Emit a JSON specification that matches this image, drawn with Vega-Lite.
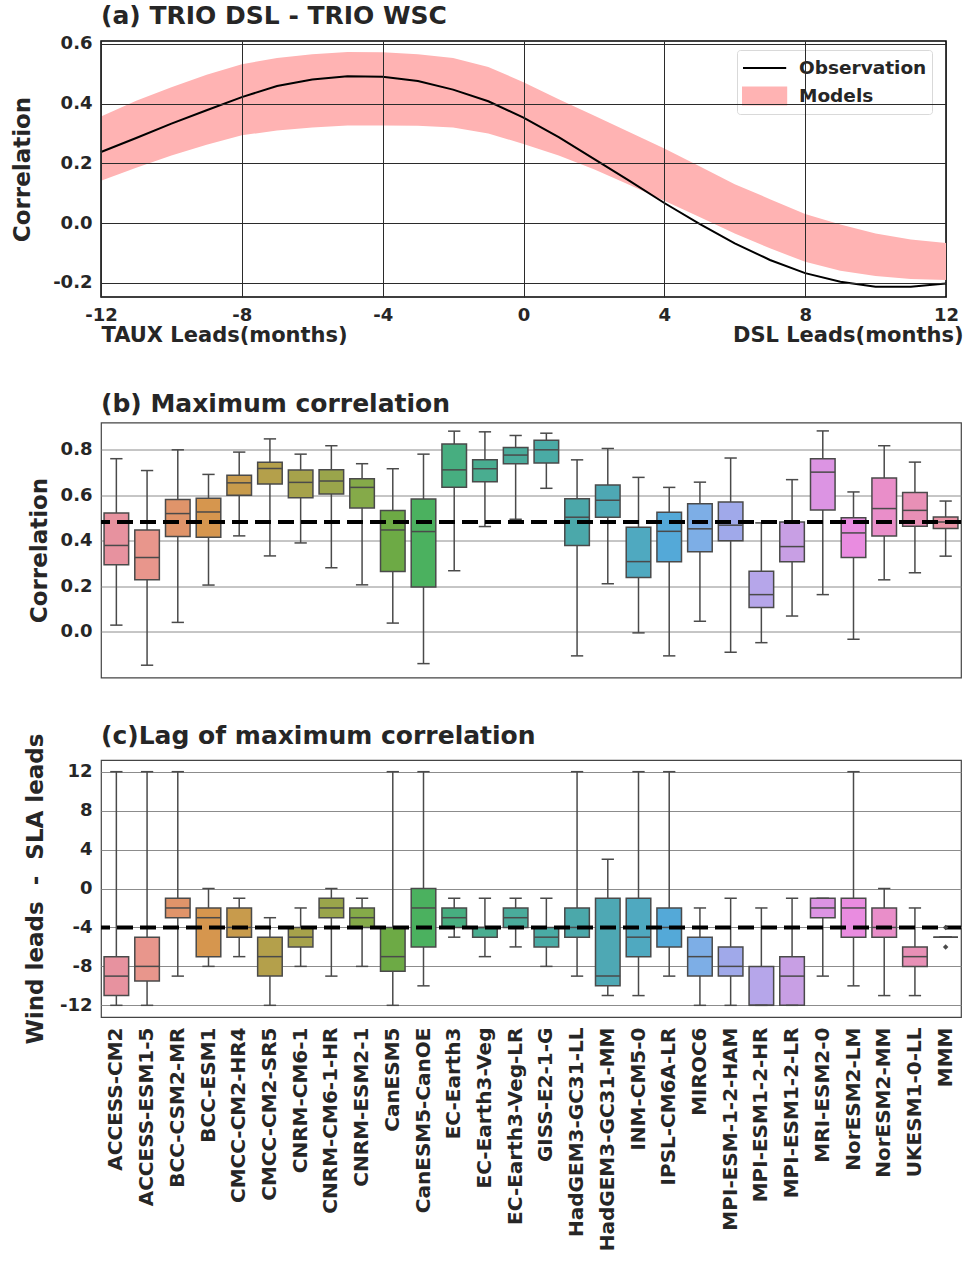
{
  "$schema": "https://vega.github.io/schema/vega-lite/v6.json",
  "padding": {"left": 10, "top": 3, "right": 0, "bottom": 0},
  "background": "white",
  "spacing": 44.5,
  "resolve": {"scale": {"color": "independent"}, "legend": {"color": "independent"}},
  "config": {
    "font": "DejaVu Sans",
    "axis": {"labelFont": "DejaVu Sans", "titleFont": "DejaVu Sans", "labelFontWeight": "bold", "titleFontWeight": "bold", "labelColor": "#262626", "titleColor": "#262626", "ticks": false, "domain": false, "labelFontSize": 18, "titleFontSize": 23},
    "title": {"font": "DejaVu Sans", "fontWeight": "bold", "fontSize": 25, "color": "#262626", "anchor": "start", "offset": 6, "frame": "group"},
    "legend": {"labelFont": "DejaVu Sans"}
  },
  "datasets": {
    "lead": [
      {"month": -12, "obs": 0.238, "lo": 0.142, "hi": 0.357},
      {"month": -11, "obs": 0.285, "lo": 0.185, "hi": 0.41},
      {"month": -10, "obs": 0.333, "lo": 0.226, "hi": 0.455},
      {"month": -9, "obs": 0.378, "lo": 0.262, "hi": 0.497},
      {"month": -8, "obs": 0.422, "lo": 0.294, "hi": 0.532},
      {"month": -7, "obs": 0.459, "lo": 0.31, "hi": 0.553},
      {"month": -6, "obs": 0.481, "lo": 0.32, "hi": 0.566},
      {"month": -5, "obs": 0.492, "lo": 0.327, "hi": 0.573},
      {"month": -4, "obs": 0.49, "lo": 0.327, "hi": 0.572},
      {"month": -3, "obs": 0.476, "lo": 0.326, "hi": 0.566},
      {"month": -2, "obs": 0.447, "lo": 0.32, "hi": 0.553},
      {"month": -1, "obs": 0.408, "lo": 0.3, "hi": 0.523},
      {"month": 0, "obs": 0.353, "lo": 0.265, "hi": 0.472},
      {"month": 1, "obs": 0.288, "lo": 0.226, "hi": 0.415},
      {"month": 2, "obs": 0.215, "lo": 0.18, "hi": 0.36},
      {"month": 3, "obs": 0.142, "lo": 0.128, "hi": 0.305},
      {"month": 4, "obs": 0.067, "lo": 0.075, "hi": 0.25},
      {"month": 5, "obs": -0.003, "lo": 0.02, "hi": 0.19},
      {"month": 6, "obs": -0.068, "lo": -0.035, "hi": 0.13},
      {"month": 7, "obs": -0.124, "lo": -0.085, "hi": 0.08},
      {"month": 8, "obs": -0.168, "lo": -0.13, "hi": 0.03},
      {"month": 9, "obs": -0.197, "lo": -0.16, "hi": -0.005},
      {"month": 10, "obs": -0.214, "lo": -0.178, "hi": -0.035},
      {"month": 11, "obs": -0.214, "lo": -0.188, "hi": -0.055},
      {"month": 12, "obs": -0.203, "lo": -0.191, "hi": -0.067}
    ],
    "maxcorr": [
      {"model": "ACCESS-CM2", "lo": 0.03, "q1": 0.295, "med": 0.38, "q3": 0.523, "hi": 0.761},
      {"model": "ACCESS-ESM1-5", "lo": -0.146, "q1": 0.229, "med": 0.327, "q3": 0.448, "hi": 0.709},
      {"model": "BCC-CSM2-MR", "lo": 0.042, "q1": 0.419, "med": 0.52, "q3": 0.582, "hi": 0.8},
      {"model": "BCC-ESM1", "lo": 0.206, "q1": 0.416, "med": 0.527, "q3": 0.587, "hi": 0.692},
      {"model": "CMCC-CM2-HR4", "lo": 0.422, "q1": 0.601, "med": 0.655, "q3": 0.688, "hi": 0.79},
      {"model": "CMCC-CM2-SR5", "lo": 0.334, "q1": 0.65, "med": 0.718, "q3": 0.745, "hi": 0.848},
      {"model": "CNRM-CM6-1", "lo": 0.391, "q1": 0.59, "med": 0.657, "q3": 0.711, "hi": 0.781},
      {"model": "CNRM-CM6-1-HR", "lo": 0.282, "q1": 0.606, "med": 0.663, "q3": 0.712, "hi": 0.818},
      {"model": "CNRM-ESM2-1", "lo": 0.207, "q1": 0.545, "med": 0.635, "q3": 0.673, "hi": 0.739},
      {"model": "CanESM5", "lo": 0.039, "q1": 0.266, "med": 0.448, "q3": 0.534, "hi": 0.717},
      {"model": "CanESM5-CanOE", "lo": -0.139, "q1": 0.197, "med": 0.441, "q3": 0.584, "hi": 0.781},
      {"model": "EC-Earth3", "lo": 0.269, "q1": 0.636, "med": 0.712, "q3": 0.826, "hi": 0.882},
      {"model": "EC-Earth3-Veg", "lo": 0.463, "q1": 0.66, "med": 0.717, "q3": 0.756, "hi": 0.879},
      {"model": "EC-Earth3-Veg-LR", "lo": 0.495, "q1": 0.739, "med": 0.777, "q3": 0.81, "hi": 0.863},
      {"model": "GISS-E2-1-G", "lo": 0.631, "q1": 0.742, "med": 0.8, "q3": 0.842, "hi": 0.873},
      {"model": "HadGEM3-GC31-LL", "lo": -0.105, "q1": 0.38, "med": 0.504, "q3": 0.585, "hi": 0.756},
      {"model": "HadGEM3-GC31-MM", "lo": 0.212, "q1": 0.504, "med": 0.578, "q3": 0.645, "hi": 0.806},
      {"model": "INM-CM5-0", "lo": -0.004, "q1": 0.239, "med": 0.309, "q3": 0.46, "hi": 0.679},
      {"model": "IPSL-CM6A-LR", "lo": -0.105, "q1": 0.308, "med": 0.442, "q3": 0.526, "hi": 0.635},
      {"model": "MIROC6", "lo": 0.047, "q1": 0.352, "med": 0.453, "q3": 0.563, "hi": 0.658},
      {"model": "MPI-ESM-1-2-HAM", "lo": -0.089, "q1": 0.401, "med": 0.469, "q3": 0.571, "hi": 0.764},
      {"model": "MPI-ESM1-2-HR", "lo": -0.047, "q1": 0.107, "med": 0.164, "q3": 0.267, "hi": 0.479},
      {"model": "MPI-ESM1-2-LR", "lo": 0.07, "q1": 0.308, "med": 0.375, "q3": 0.483, "hi": 0.669},
      {"model": "MRI-ESM2-0", "lo": 0.164, "q1": 0.536, "med": 0.702, "q3": 0.761, "hi": 0.883},
      {"model": "NorESM2-LM", "lo": -0.032, "q1": 0.327, "med": 0.435, "q3": 0.502, "hi": 0.615},
      {"model": "NorESM2-MM", "lo": 0.229, "q1": 0.422, "med": 0.542, "q3": 0.676, "hi": 0.818},
      {"model": "UKESM1-0-LL", "lo": 0.26, "q1": 0.464, "med": 0.534, "q3": 0.613, "hi": 0.746},
      {"model": "MMM", "lo": 0.333, "q1": 0.454, "med": 0.483, "q3": 0.505, "hi": 0.575}
    ],
    "lag": [
      {"model": "ACCESS-CM2", "lo": -12, "q1": -11, "med": -9, "q3": -7, "hi": 12},
      {"model": "ACCESS-ESM1-5", "lo": -12, "q1": -9.5, "med": -8, "q3": -5, "hi": 12},
      {"model": "BCC-CSM2-MR", "lo": -9, "q1": -3, "med": -2, "q3": -1, "hi": 12},
      {"model": "BCC-ESM1", "lo": -8, "q1": -7, "med": -3, "q3": -2, "hi": 0},
      {"model": "CMCC-CM2-HR4", "lo": -7, "q1": -5, "med": -4, "q3": -2, "hi": -1},
      {"model": "CMCC-CM2-SR5", "lo": -12, "q1": -9, "med": -7, "q3": -5, "hi": -3},
      {"model": "CNRM-CM6-1", "lo": -8, "q1": -6, "med": -5, "q3": -4, "hi": -2},
      {"model": "CNRM-CM6-1-HR", "lo": -9, "q1": -3, "med": -2, "q3": -1, "hi": 0},
      {"model": "CNRM-ESM2-1", "lo": -8, "q1": -4, "med": -3, "q3": -2, "hi": -1},
      {"model": "CanESM5", "lo": -12, "q1": -8.5, "med": -7, "q3": -4, "hi": 12},
      {"model": "CanESM5-CanOE", "lo": -10, "q1": -6, "med": -2, "q3": 0, "hi": 12},
      {"model": "EC-Earth3", "lo": -5, "q1": -4, "med": -3, "q3": -2, "hi": -1},
      {"model": "EC-Earth3-Veg", "lo": -7, "q1": -5, "med": -4, "q3": -4, "hi": -1},
      {"model": "EC-Earth3-Veg-LR", "lo": -6, "q1": -4, "med": -3, "q3": -2, "hi": -1},
      {"model": "GISS-E2-1-G", "lo": -8, "q1": -6, "med": -5, "q3": -4, "hi": -1},
      {"model": "HadGEM3-GC31-LL", "lo": -9, "q1": -5, "med": -4, "q3": -2, "hi": 12},
      {"model": "HadGEM3-GC31-MM", "lo": -11, "q1": -10, "med": -9, "q3": -1, "hi": 3},
      {"model": "INM-CM5-0", "lo": -11, "q1": -7, "med": -5, "q3": -1, "hi": 12},
      {"model": "IPSL-CM6A-LR", "lo": -9, "q1": -6, "med": -4, "q3": -2, "hi": 12},
      {"model": "MIROC6", "lo": -12, "q1": -9, "med": -7, "q3": -5, "hi": -2},
      {"model": "MPI-ESM-1-2-HAM", "lo": -12, "q1": -9, "med": -8, "q3": -6, "hi": -1},
      {"model": "MPI-ESM1-2-HR", "lo": -12, "q1": -12, "med": -12, "q3": -8, "hi": -2},
      {"model": "MPI-ESM1-2-LR", "lo": -12, "q1": -12, "med": -9, "q3": -7, "hi": -1},
      {"model": "MRI-ESM2-0", "lo": -9, "q1": -3, "med": -2, "q3": -1, "hi": -1},
      {"model": "NorESM2-LM", "lo": -10, "q1": -5, "med": -2, "q3": -1, "hi": 12},
      {"model": "NorESM2-MM", "lo": -11, "q1": -5, "med": -4, "q3": -2, "hi": 0},
      {"model": "UKESM1-0-LL", "lo": -11, "q1": -8, "med": -7, "q3": -6, "hi": -2},
      {"model": "MMM", "lo": -5, "q1": -5, "med": -5, "q3": -5, "hi": -5}
    ],
    "lagout": [
      {"model": "MMM", "lag": -4},
      {"model": "MMM", "lag": -6}
    ],
    "refcorr": [{"value": 0.483}],
    "reflag": [{"value": -4}]
  },
  "vconcat": [
    {
      "width": 845,
      "height": 256,
      "title": {"text": "(a) TRIO DSL - TRIO WSC"},
      "data": {"name": "lead"},
      "view": {"stroke": "#000000", "strokeWidth": 1.5},
      "resolve": {"axis": {"x": "independent"}},
      "layer": [
        {
          "mark": {"type": "area"},
          "encoding": {
            "x": {"field": "month", "type": "quantitative",
                  "scale": {"domain": [-12, 12], "nice": false, "zero": false},
                  "axis": {"zindex": 1, "values": [-12, -8, -4, 0, 4, 8, 12], "labelExpr": "'' + datum.value", "labelFlush": false, "labelPadding": 9, "grid": true, "gridColor": "#2b2b2b", "gridWidth": 1, "title": "TAUX Leads(months)", "titleFontSize": 21, "titleX": 0, "titleY": 44, "titleAlign": "left", "titleBaseline": "alphabetic", "orient": "bottom"}},
            "y": {"field": "lo", "type": "quantitative",
                  "scale": {"domain": [-0.248, 0.61], "nice": false, "zero": false},
                  "axis": {"zindex": 1, "values": [-0.2, 0, 0.2, 0.4, 0.6], "labelExpr": "replace(format(datum.value, '.1f'), '\u2212', '-')", "labelPadding": 9, "grid": true, "gridColor": "#2b2b2b", "gridWidth": 1, "title": "Correlation", "titleX": -79, "titleY": 128, "titleBaseline": "middle", "titleAlign": "center", "titleAngle": 270}},
            "y2": {"field": "hi"},
            "color": {"datum": "Models", "type": "nominal",
                      "scale": {"domain": ["Observation", "Models"], "range": ["#000000", "#ffb3b3"]},
                      "legend": {"orient": "none", "legendX": 636, "legendY": 9, "title": null, "labelFontSize": 18.5, "labelFontWeight": "bold", "labelColor": "#262626", "strokeColor": "#d9d9d9", "fillColor": "#ffffff", "padding": 5, "cornerRadius": 3, "symbolSize": 576, "labelOffset": 31, "rowPadding": 5, "symbolStrokeWidth": 2,
                                 "encode": {"symbols": {"update": {
                                   "shape": {"signal": "datum.value === 'Observation' ? 'M-1,0H2.6' : 'M-1,-0.7H2.6V0.7H-1Z'"},
                                   "strokeWidth": {"value": 2},
                                   "opacity": {"value": 1}}}}}}
          }
        },
        {
          "mark": {"type": "line", "strokeWidth": 2},
          "encoding": {
            "x": {"field": "month", "type": "quantitative",
                  "axis": {"orient": "bottom", "labels": false, "grid": false, "title": "DSL Leads(months)", "titleFontSize": 21, "titleX": 862, "titleY": 44, "titleAlign": "right", "titleBaseline": "alphabetic"}},
            "y": {"field": "obs", "type": "quantitative"},
            "color": {"datum": "Observation", "type": "nominal"}
          }
        }
      ]
    },
    {
      "width": 860,
      "height": 255,
      "title": {"text": "(b) Maximum correlation"},
      "view": {"stroke": "#444444", "strokeWidth": 1.2},
      "layer": [
        {
          "data": {"name": "maxcorr"},
          "mark": {"type": "rule", "color": "#4a4a4a", "strokeWidth": 1.5},
          "encoding": {
            "x": {"field": "model", "type": "nominal", "sort": null, "axis": null,
                  "scale": {"paddingInner": 0.2, "paddingOuter": 0.1}},
            "y": {"field": "lo", "type": "quantitative",
                  "scale": {"domain": [-0.2, 0.92], "nice": false, "zero": false},
                  "axis": {"values": [0, 0.2, 0.4, 0.6, 0.8], "labelExpr": "replace(format(datum.value, '.1f'), '\u2212', '-')", "labelPadding": 9, "grid": true, "gridColor": "#8c8c8c", "gridWidth": 1, "title": "Correlation", "titleX": -62, "titleY": 127.5, "titleBaseline": "middle", "titleAlign": "center", "titleAngle": 270}},
            "y2": {"field": "hi"}
          }
        },
        {
          "data": {"name": "maxcorr"},
          "mark": {"type": "bar", "stroke": "#4a4a4a", "strokeWidth": 1.5, "opacity": 1},
          "encoding": {
            "x": {"field": "model", "type": "nominal", "sort": null},
            "y": {"field": "q1", "type": "quantitative"},
            "y2": {"field": "q3"},
            "fill": {"field": "model", "type": "nominal", "sort": null, "legend": null,
                      "scale": {"range": ["#e7929f", "#e8968c", "#e0946a", "#d6964e", "#c89b4c", "#b4a04b", "#a6a24b", "#9aa54b", "#85aa49", "#6daa45", "#4bb15f", "#47ae80", "#49ad90", "#4aab9b", "#4aaba5", "#4ba8aa", "#4ea8b4", "#4fa9c0", "#54a9d8", "#7daee6", "#a0a9ea", "#b6a6ea", "#c89fe4", "#dc94e3", "#e98ce0", "#e98ec9", "#e890b6", "#e893a6"]}}
          }
        },
        {
          "data": {"name": "maxcorr"},
          "mark": {"type": "tick", "color": "#4a4a4a", "size": 24.6, "thickness": 1.5, "opacity": 1},
          "encoding": {
            "x": {"field": "model", "type": "nominal", "sort": null},
            "y": {"field": "med", "type": "quantitative"}
          }
        },
        {
          "data": {"name": "maxcorr"},
          "mark": {"type": "tick", "color": "#4a4a4a", "size": 12.3, "thickness": 1.5, "opacity": 1},
          "encoding": {
            "x": {"field": "model", "type": "nominal", "sort": null},
            "y": {"field": "lo", "type": "quantitative"}
          }
        },
        {
          "data": {"name": "maxcorr"},
          "mark": {"type": "tick", "color": "#4a4a4a", "size": 12.3, "thickness": 1.5, "opacity": 1},
          "encoding": {
            "x": {"field": "model", "type": "nominal", "sort": null},
            "y": {"field": "hi", "type": "quantitative"}
          }
        },
        {
          "data": {"name": "refcorr"},
          "mark": {"type": "rule", "color": "#000000", "strokeWidth": 4, "strokeDash": [16, 7]},
          "encoding": {"y": {"field": "value", "type": "quantitative"}}
        }
      ]
    },
    {
      "width": 860,
      "height": 257,
      "title": {"text": "(c)Lag of maximum correlation", "offset": -16},
      "view": {"stroke": "#444444", "strokeWidth": 1.2},
      "layer": [
        {
          "data": {"name": "lag"},
          "mark": {"type": "rule", "color": "#4a4a4a", "strokeWidth": 1.5},
          "encoding": {
            "x": {"field": "model", "type": "nominal", "sort": null,
                  "scale": {"paddingInner": 0.2, "paddingOuter": 0.1},
                  "axis": {"title": null, "labelAngle": -90, "labelFontSize": 20, "labelPadding": 10, "labelLimit": 400, "grid": false}},
            "y": {"field": "lo", "type": "quantitative",
                  "scale": {"domain": [-13.2, 13.2], "nice": false, "zero": false},
                  "axis": {"values": [-12, -8, -4, 0, 4, 8, 12], "labelExpr": "'' + datum.value", "labelPadding": 9, "grid": true, "gridColor": "#8c8c8c", "gridWidth": 1, "title": "Wind leads \u00a0-\u00a0 SLA leads", "titleX": -66, "titleY": 128.5, "titleBaseline": "middle", "titleAlign": "center", "titleAngle": 270}},
            "y2": {"field": "hi"}
          }
        },
        {
          "data": {"name": "lag"},
          "mark": {"type": "bar", "stroke": "#4a4a4a", "strokeWidth": 1.5, "opacity": 1},
          "encoding": {
            "x": {"field": "model", "type": "nominal", "sort": null},
            "y": {"field": "q1", "type": "quantitative"},
            "y2": {"field": "q3"},
            "fill": {"field": "model", "type": "nominal", "sort": null, "legend": null,
                      "scale": {"range": ["#e7929f", "#e8968c", "#e0946a", "#d6964e", "#c89b4c", "#b4a04b", "#a6a24b", "#9aa54b", "#85aa49", "#6daa45", "#4bb15f", "#47ae80", "#49ad90", "#4aab9b", "#4aaba5", "#4ba8aa", "#4ea8b4", "#4fa9c0", "#54a9d8", "#7daee6", "#a0a9ea", "#b6a6ea", "#c89fe4", "#dc94e3", "#e98ce0", "#e98ec9", "#e890b6", "#e893a6"]}}
          }
        },
        {
          "data": {"name": "lag"},
          "mark": {"type": "tick", "color": "#4a4a4a", "size": 24.6, "thickness": 1.5, "opacity": 1},
          "encoding": {
            "x": {"field": "model", "type": "nominal", "sort": null},
            "y": {"field": "med", "type": "quantitative"}
          }
        },
        {
          "data": {"name": "lag"},
          "mark": {"type": "tick", "color": "#4a4a4a", "size": 12.3, "thickness": 1.5, "opacity": 1},
          "encoding": {
            "x": {"field": "model", "type": "nominal", "sort": null},
            "y": {"field": "lo", "type": "quantitative"}
          }
        },
        {
          "data": {"name": "lag"},
          "mark": {"type": "tick", "color": "#4a4a4a", "size": 12.3, "thickness": 1.5, "opacity": 1},
          "encoding": {
            "x": {"field": "model", "type": "nominal", "sort": null},
            "y": {"field": "hi", "type": "quantitative"}
          }
        },
        {
          "data": {"name": "reflag"},
          "mark": {"type": "rule", "color": "#000000", "strokeWidth": 4, "strokeDash": [16, 7]},
          "encoding": {"y": {"field": "value", "type": "quantitative"}}
        },
        {
          "data": {"name": "lagout"},
          "mark": {"type": "point", "shape": "diamond", "filled": true, "color": "#4a4a4a", "size": 30, "opacity": 1},
          "encoding": {
            "x": {"field": "model", "type": "nominal", "sort": null},
            "y": {"field": "lag", "type": "quantitative"}
          }
        }
      ]
    }
  ]
}
